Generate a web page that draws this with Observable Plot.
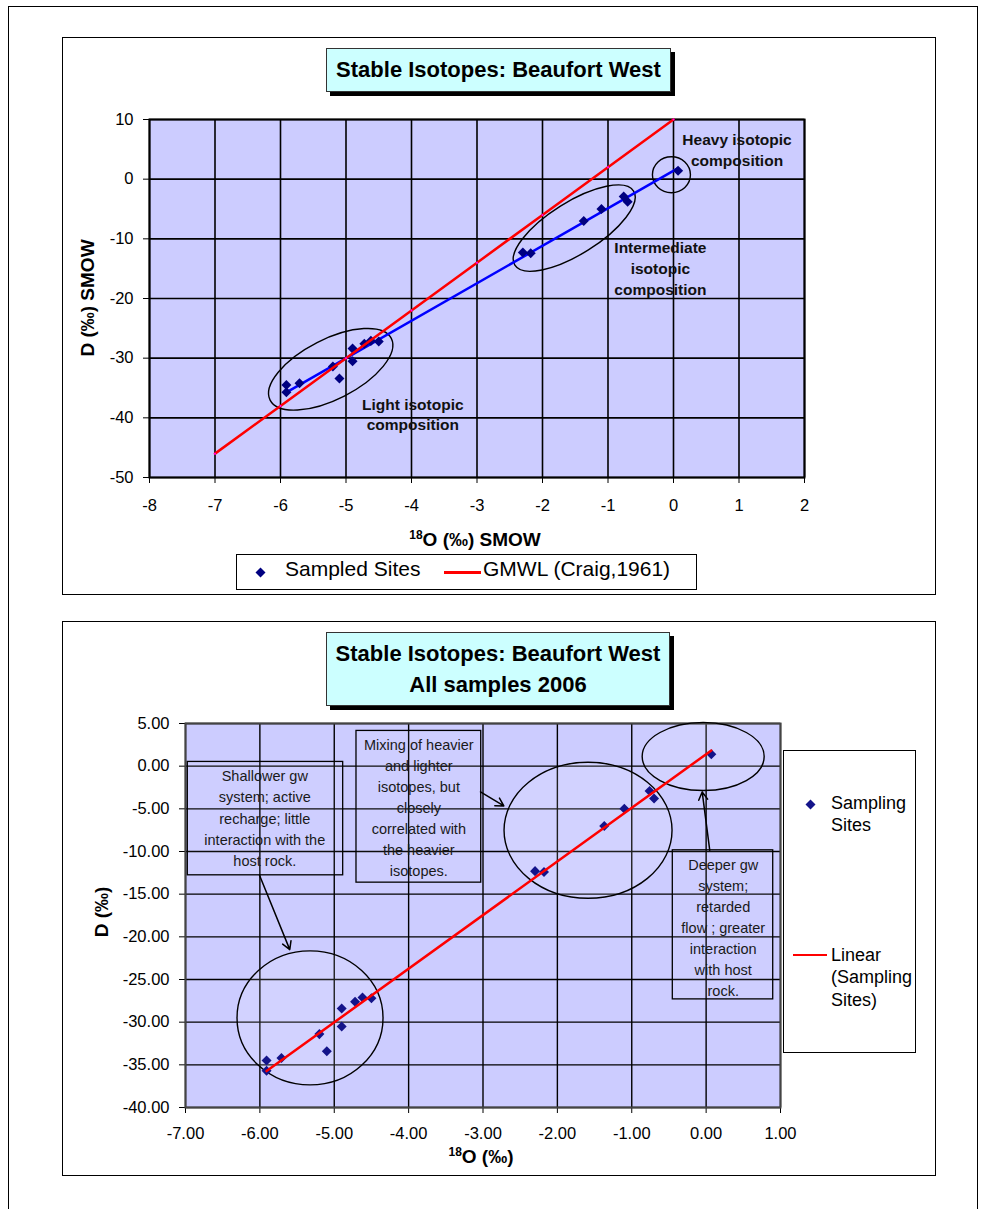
<!DOCTYPE html>
<html>
<head>
<meta charset="utf-8">
<script src="https://cdn.jsdelivr.net/npm/d3@7"></script>
<script src="https://cdn.jsdelivr.net/npm/@observablehq/plot@0.6"></script>
<style>
  body { margin: 0; background: #fff; font-family: 'Liberation Sans', Arial, sans-serif; color: #000; }
  #page { position: relative; width: 981px; height: 1209px; overflow: hidden; }
  .box { position: absolute; border: 1.5px solid #000; box-sizing: border-box; background: #fff; }
  .frame { position: absolute; border: 1.5px solid #000; box-sizing: border-box; }
  .title { position: absolute; box-sizing: border-box; border: 1.5px solid #333; background: #CCFFFF;
           box-shadow: 4px 4px 0 #000; font-weight: bold; font-size: 22px; text-align: center;
           display: flex; flex-direction: column; justify-content: center; }
  .axt { position: absolute; font-weight: bold; font-size: 19px; line-height: 20px; text-align: center; white-space: nowrap; }
  .axt .sup { font-size: 12px; position: relative; top: -7px; }
  .lg { position: absolute; white-space: nowrap; }
  svg.plot { position: absolute; }
</style>
</head>
<body>
<div id="page"></div>
<script>
// ---------------- data ----------------
// Sampled sites: delta 18O and delta D (per mil, SMOW)
const o18 = [-5.91, -5.91, -5.71, -5.20, -5.10, -4.90, -4.90, -4.72, -4.62, -4.50, -2.30, -2.18, -1.37, -1.10, -0.76, -0.70, 0.07];
const dD  = [-34.5, -35.7, -34.2, -31.4, -33.4, -28.4, -30.5, -27.6, -27.1, -27.2, -12.3, -12.4, -7.0, -5.0, -2.9, -3.8, 1.4];

// Global Meteoric Water Line (Craig, 1961)
const gmwlX = [-7, -6, -5, -4, -3, -2, -1, 0];
const gmwlY = [-46, -38, -30, -22, -14, -6, 2, 10];

// tick values
const x1Ticks = [-8, -7, -6, -5, -4, -3, -2, -1, 0, 1, 2];
const y1Ticks = [-50, -40, -30, -20, -10, 0, 10];
const x2Ticks = [-7, -6, -5, -4, -3, -2, -1, 0, 1];
const y2Ticks = [-40, -35, -30, -25, -20, -15, -10, -5, 0, 5];

// annotation texts (chart 1)
const notes1Text = ["Heavy isotopic\ncomposition", "Intermediate\nisotopic\ncomposition", "Light isotopic\ncomposition"];
const notes1X = [0.97, -0.20, -3.98];
const notes1Y = [5.05, -14.8, -39.25];

// annotation texts (chart 2)
const notes2Text = [
  "Shallower gw\nsystem; active\nrecharge; little\ninteraction with the\nhost rock.",
  "Mixing of heavier\nand lighter\nisotopes, but\nclosely\ncorrelated with\nthe heavier\nisotopes.",
  "Deeper gw\nsystem;\nretarded\nflow ; greater\ninteraction\nwith host\nrock."
];
const notes2X = [-5.934, -3.863, 0.230];
const notes2Y = [-5.93, -4.73, -18.75];
const box2X1 = [-6.969, -4.701, -0.448];
const box2X2 = [-4.880, -3.024, 0.902];
const box2Y1 = [0.497, 4.13, -9.86];
const box2Y2 = [-12.79, -13.65, -27.33];
const arrowX1 = [-6.005, -3.034, 0.049];
const arrowY1 = [-12.79, -3.02, -9.86];
const arrowX2 = [-5.598, -2.720, -0.053];
const arrowY2 = [-21.50, -4.66, -3.02];

// group ellipses (centres in data units)
const ell1CX = [-5.226, -1.508, -0.024];
const ell1CY = [-31.95, -8.29, 0.65];
const ell2CX = [-5.319, -1.581, -0.033];
const ell2CY = [-29.56, -7.57, 1.07];

// ---------------- helpers ----------------
const sites = o18.map((x, i) => ({x, y: dD[i]}));
const gmwl = gmwlX.map((x, i) => ({x, y: gmwlY[i]}));
const notes1 = notes1Text.map((t, i) => ({text: t, x: notes1X[i], y: notes1Y[i]}));
const notes2 = notes2Text.map((t, i) => ({text: t, x: notes2X[i], y: notes2Y[i]}));
const boxes2 = box2X1.map((x1, i) => ({x1, x2: box2X2[i], y1: box2Y1[i], y2: box2Y2[i]}));
const arrows2 = arrowX1.map((x1, i) => ({x1, y1: arrowY1[i], x2: arrowX2[i], y2: arrowY2[i]}));

// shape of the ellipse outlines in pixels
const ell1Shape = [{rx: 68, ry: 30, a: -27}, {rx: 70, ry: 26, a: -32}, {rx: 19, ry: 18, a: 0}];
const ell2Shape = [{rx: 73, ry: 67, a: 0}, {rx: 84, ry: 68, a: 0}, {rx: 61, ry: 34, a: 0}];

const diamond = {
  draw(ctx, size) {
    const r = Math.sqrt(size / 2);
    ctx.moveTo(0, -r); ctx.lineTo(r, 0); ctx.lineTo(0, r); ctx.lineTo(-r, 0); ctx.closePath();
  }
};

function ellipseLayer(cx, cy, shapes, fill) {
  return function (...args) {
    const s = (args[0] && typeof args[0].x === "function") ? args[0] : args[1];
    const g = d3.create("svg:g");
    cx.forEach((x, i) => {
      const sh = shapes[i];
      g.append("ellipse")
        .attr("rx", sh.rx).attr("ry", sh.ry)
        .attr("transform", `translate(${s.x(x)},${s.y(cy[i])}) rotate(${sh.a})`)
        .attr("fill", fill).attr("stroke", "#000").attr("stroke-width", 1.4);
    });
    return g.node();
  };
}

const FONT = "'Liberation Sans', Arial, sans-serif";
const page = document.getElementById("page");
function add(html) { page.insertAdjacentHTML("beforeend", html); }

// page frame and chart areas
add(`<div class="frame" style="left:8px;top:6px;width:970px;height:1260px;"></div>`);
add(`<div class="box" style="left:62px;top:37px;width:874px;height:558px;"></div>`);
add(`<div class="box" style="left:62px;top:621px;width:874px;height:555px;"></div>`);

// ---------------- chart 1 ----------------
const chart1 = Plot.plot({
  width: 874, height: 557,
  marginLeft: 87, marginTop: 82, marginRight: 132, marginBottom: 117,
  style: {fontSize: "16.5px", fontFamily: FONT, background: "transparent", color: "#000", overflow: "visible"},
  x: {domain: [-8, 2], ticks: x1Ticks, tickFormat: d => String(d), tickSize: 6, tickPadding: 16, label: null},
  y: {domain: [-50, 10], ticks: y1Ticks, tickFormat: d => String(d), tickSize: 6, tickPadding: 10, label: null},
  marks: [
    Plot.frame({fill: "#CCCCFF", stroke: null}),
    Plot.ruleX(x1Ticks, {stroke: "#000", strokeWidth: 1.6}),
    Plot.ruleY(y1Ticks, {stroke: "#000", strokeWidth: 1.6}),
    Plot.frame({stroke: "#000", strokeWidth: 2}),
    ellipseLayer(ell1CX, ell1CY, ell1Shape, "none"),
    Plot.linearRegressionY(sites, {x: "x", y: "y", stroke: "#0000FF", strokeWidth: 2.5, ci: 0}),
    Plot.dot(sites, {x: "x", y: "y", symbol: diamond, r: 4, fill: "#000080", stroke: null}),
    Plot.line(gmwl, {x: "x", y: "y", stroke: "#FF0000", strokeWidth: 2.5}),
    Plot.dot(gmwl, {x: "x", y: "y", r: 1, fill: "#FF00FF", stroke: null}),
    Plot.text(notes1, {x: "x", y: "y", text: "text", fontSize: 15.5, fontWeight: "bold", lineHeight: 1.34,
                       lineAnchor: "middle", textAnchor: "middle", fill: "#111"})
  ]
});
chart1.classList.add("plot");
chart1.style.left = "62px"; chart1.style.top = "37px";
page.appendChild(chart1);

add(`<div class="title" style="left:326px;top:48px;width:345px;height:44px;">Stable Isotopes: Beaufort West</div>`);
add(`<div class="axt" style="left:375px;top:530px;width:200px;"><span class="sup">18</span>O (‰) SMOW</div>`);
add(`<div class="axt" style="left:-22px;top:288px;width:220px;transform:rotate(-90deg);">D (‰) SMOW</div>`);

// legend chart 1
add(`<div class="box" style="left:236px;top:554px;width:461px;height:36px;"></div>`);
add(`<svg style="position:absolute;left:255px;top:567px" width="11" height="11"><path d="M5.5,0.5L10.5,5.5L5.5,10.5L0.5,5.5Z" fill="#000080"/></svg>`);
add(`<div class="lg" style="left:285px;top:557px;font-size:21px;line-height:24px;">Sampled Sites</div>`);
add(`<div style="position:absolute;left:444px;top:571px;width:37px;height:2.5px;background:#FF0000"></div>`);
add(`<div class="lg" style="left:483px;top:557px;font-size:21px;line-height:24px;">GMWL (Craig,1961)</div>`);

// ---------------- chart 2 ----------------
const chart2 = Plot.plot({
  width: 874, height: 554,
  marginLeft: 123, marginTop: 102, marginRight: 156, marginBottom: 68,
  style: {fontSize: "16.5px", fontFamily: FONT, background: "transparent", color: "#000", overflow: "visible"},
  x: {domain: [-7, 1], ticks: x2Ticks, tickFormat: d => d.toFixed(2), tickSize: 6, tickPadding: 14, label: null},
  y: {domain: [-40, 5], ticks: y2Ticks, tickFormat: d => d.toFixed(2), tickSize: 6, tickPadding: 10, label: null},
  marks: [
    Plot.frame({fill: "#CCCCFF", stroke: null}),
    Plot.ruleX(x2Ticks, {stroke: "#000", strokeWidth: 1.4}),
    Plot.ruleY(y2Ticks, {stroke: "#000", strokeWidth: 1.4}),
    Plot.frame({stroke: "#444", strokeWidth: 2}),
    ellipseLayer(ell2CX, ell2CY, ell2Shape, "rgba(255,255,255,0.12)"),
    Plot.rect(boxes2, {x1: "x1", x2: "x2", y1: "y1", y2: "y2", fill: "#fff", fillOpacity: 0.05, stroke: "#000", strokeWidth: 1.3}),
    Plot.text(notes2, {x: "x", y: "y", text: "text", fontSize: 14.5, lineHeight: 1.45,
                       lineAnchor: "middle", textAnchor: "middle", fill: "#1a1a1a"}),
    Plot.arrow(arrows2, {x1: "x1", y1: "y1", x2: "x2", y2: "y2", stroke: "#000", strokeWidth: 1.5, headLength: 9}),
    Plot.dot(sites, {x: "x", y: "y", symbol: diamond, r: 4, fill: "#14148A", stroke: null}),
    Plot.linearRegressionY(sites, {x: "x", y: "y", stroke: "#FF0000", strokeWidth: 2.5, ci: 0})
  ]
});
chart2.classList.add("plot");
chart2.style.left = "62px"; chart2.style.top = "621px";
page.appendChild(chart2);

add(`<div class="title" style="left:326px;top:632px;width:344px;height:74px;line-height:31px;"><div>Stable Isotopes: Beaufort West</div><div>All samples 2006</div></div>`);
add(`<div class="axt" style="left:381px;top:1147px;width:200px;"><span class="sup">18</span>O (‰)</div>`);
add(`<div class="axt" style="left:-8px;top:902px;width:220px;transform:rotate(-90deg);">D (‰)</div>`);

// legend chart 2
add(`<div class="box" style="left:783px;top:750px;width:133px;height:303px;"></div>`);
add(`<svg style="position:absolute;left:805px;top:799px" width="11" height="11"><path d="M5.5,0.5L10.5,5.5L5.5,10.5L0.5,5.5Z" fill="#14148A"/></svg>`);
add(`<div class="lg" style="left:831px;top:792px;font-size:18px;line-height:22px;">Sampling<br>Sites</div>`);
add(`<div style="position:absolute;left:793px;top:953.5px;width:34px;height:2.5px;background:#FF0000"></div>`);
add(`<div class="lg" style="left:831px;top:943.5px;font-size:18px;line-height:22.5px;">Linear<br>(Sampling<br>Sites)</div>`);
</script>
</body>
</html>
